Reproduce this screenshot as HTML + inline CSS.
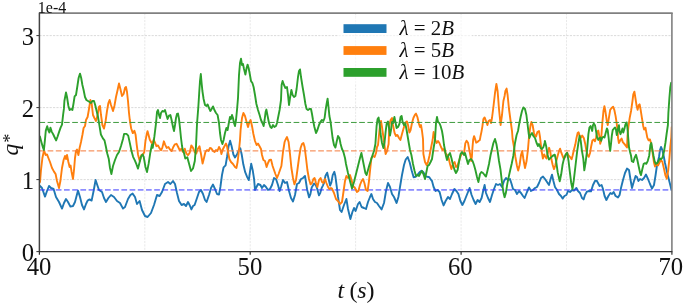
<!DOCTYPE html>
<html><head><meta charset="utf-8"><title>plot</title>
<style>html,body{margin:0;padding:0;background:#fff}body{width:685px;height:305px;position:relative;overflow:hidden}</style>
</head><body>
<svg width="685" height="305" viewBox="0 0 685 305" style="position:absolute;left:0;top:0">
<rect width="685" height="305" fill="#fff"/>
<line x1="144.8" y1="13.1" x2="144.8" y2="251.55" stroke="#e0e0e0" stroke-width="0.7" stroke-dasharray="2.2,1.2"/>
<line x1="250.2" y1="13.1" x2="250.2" y2="251.55" stroke="#e0e0e0" stroke-width="0.7" stroke-dasharray="2.2,1.2"/>
<line x1="355.6" y1="13.1" x2="355.6" y2="251.55" stroke="#e0e0e0" stroke-width="0.7" stroke-dasharray="2.2,1.2"/>
<line x1="461.1" y1="13.1" x2="461.1" y2="251.55" stroke="#e0e0e0" stroke-width="0.7" stroke-dasharray="2.2,1.2"/>
<line x1="566.5" y1="13.1" x2="566.5" y2="251.55" stroke="#e0e0e0" stroke-width="0.7" stroke-dasharray="2.2,1.2"/>
<line x1="39.4" y1="179.6" x2="671.9" y2="179.6" stroke="#cccccc" stroke-width="0.7" stroke-dasharray="2.2,1.2"/>
<line x1="39.4" y1="107.6" x2="671.9" y2="107.6" stroke="#cccccc" stroke-width="0.7" stroke-dasharray="2.2,1.2"/>
<line x1="39.4" y1="35.6" x2="671.9" y2="35.6" stroke="#cccccc" stroke-width="0.7" stroke-dasharray="2.2,1.2"/>
<clipPath id="c"><rect x="39.4" y="13.1" width="632.5" height="238.45000000000002"/></clipPath>
<g clip-path="url(#c)">
<polyline points="40.0,186.0 42.0,188.0 45.0,196.6 47.0,191.0 49.0,186.0 51.0,188.0 53.6,189.0 56.0,197.0 59.0,202.0 62.0,208.6 64.0,203.0 66.0,199.0 68.0,202.0 70.4,206.6 73.0,206.0 75.0,202.0 78.0,190.6 80.0,197.0 82.0,205.0 84.0,209.4 86.0,204.0 87.6,200.6 89.6,199.4 91.6,200.6 93.6,191.0 95.6,180.0 97.6,186.0 99.0,190.0 102.0,192.0 104.0,198.0 106.0,202.0 108.4,198.0 111.0,195.0 114.0,197.0 117.0,201.0 120.0,203.0 123.0,208.6 125.0,207.0 128.0,199.0 130.4,195.0 132.6,193.6 135.0,197.0 137.0,204.0 139.6,201.0 142.0,210.0 145.0,216.0 147.6,217.0 151.0,213.0 154.0,205.0 157.0,195.0 159.6,196.0 162.0,192.0 165.0,184.0 168.0,182.0 170.4,184.0 173.0,181.0 175.0,184.0 177.0,193.0 179.0,201.0 181.6,205.0 184.0,204.0 186.0,206.0 188.0,202.0 189.6,205.0 191.4,209.4 193.0,206.0 194.6,205.0 197.0,198.0 199.0,192.0 201.0,190.0 203.0,194.0 205.0,200.0 206.6,202.0 209.0,195.0 211.0,188.0 213.0,184.6 215.0,189.0 217.0,194.0 219.0,194.6 220.4,187.0 222.0,175.0 223.6,167.3 225.6,165.3 227.1,156.5 228.5,146.6 230.1,140.7 231.5,145.7 233.4,154.5 235.0,157.5 237.0,154.5 239.0,149.6 240.3,148.2 241.7,154.5 243.3,164.3 245.2,172.2 247.2,177.1 248.8,180.1 250.2,170.2 251.2,163.8 252.7,170.2 254.1,179.1 255.0,190.0 258.0,184.0 260.4,185.0 262.0,188.0 264.0,185.0 266.0,187.0 268.0,190.0 270.0,189.0 272.0,185.0 274.0,178.0 276.0,179.0 278.0,185.0 279.6,191.0 281.0,187.0 283.0,180.0 285.0,183.0 287.0,182.0 289.0,191.0 291.0,198.0 293.0,201.4 295.0,195.0 297.0,184.0 299.0,183.0 301.0,179.0 303.0,178.0 305.0,176.0 305.8,181.0 307.1,189.5 309.1,197.4 310.4,194.1 311.7,187.5 314.1,183.6 315.7,184.9 317.0,188.2 319.0,195.4 320.3,192.8 321.6,188.2 322.9,185.6 324.2,182.3 325.5,175.7 327.2,172.7 328.8,179.7 330.1,185.6 331.4,182.3 332.7,175.1 334.3,171.8 335.3,175.7 336.7,186.2 338.0,196.7 340.0,210.0 341.6,212.0 344.0,205.0 346.4,199.0 348.0,209.0 350.4,219.0 352.4,212.0 354.0,208.0 355.6,211.0 358.0,204.0 359.6,202.0 361.6,207.0 364.0,208.0 366.0,209.0 368.0,202.0 370.0,197.0 371.4,194.0 373.0,199.0 375.0,202.0 377.0,203.0 379.0,206.0 381.6,209.4 384.0,203.0 386.0,191.0 388.0,183.0 390.0,187.0 392.0,194.0 394.0,197.0 396.6,203.0 398.4,197.0 400.0,187.0 402.0,175.0 404.0,165.0 405.7,159.5 407.7,157.1 409.7,162.5 411.6,170.3 413.6,177.2 415.6,176.8 417.5,174.9 419.5,172.3 421.5,170.7 423.4,172.3 425.4,176.2 427.4,176.8 429.3,177.2 431.3,180.2 432.0,181.0 433.6,187.0 435.6,191.0 437.6,190.0 439.6,192.0 441.6,200.0 443.6,205.4 445.6,201.0 448.0,197.0 450.0,199.0 452.0,194.0 454.4,189.0 456.4,191.0 458.4,194.0 460.4,201.0 462.4,205.0 464.4,201.0 466.4,196.0 468.0,192.0 469.6,188.0 471.6,195.0 473.6,200.0 475.6,204.0 477.6,200.0 479.6,202.0 481.6,198.0 483.6,189.0 484.6,185.0 486.0,193.0 488.0,198.0 490.0,202.0 492.0,195.0 494.0,189.0 496.0,184.0 498.0,185.0 500.0,184.0 502.0,187.0 504.0,181.0 506.0,178.0 508.0,180.0 510.0,179.0 511.6,184.0 513.0,189.0 515.0,190.0 517.0,194.0 519.0,191.0 521.0,193.0 523.0,196.0 524.6,198.0 527.0,192.0 529.0,187.4 531.0,191.0 533.0,190.0 535.0,188.0 537.0,187.0 539.0,183.0 541.0,178.0 543.0,176.6 545.0,179.0 547.0,182.0 549.0,185.0 550.6,179.0 552.0,174.6 553.4,181.0 555.0,187.0 557.0,190.0 559.0,194.0 561.0,196.0 562.6,198.6 564.4,196.0 566.4,195.0 568.0,191.0 570.0,192.0 572.0,190.0 574.0,190.6 576.4,188.0 578.0,191.0 580.0,193.0 582.0,198.0 583.6,199.4 585.0,195.0 587.0,191.6 589.0,191.0 591.0,191.4 593.0,185.0 595.0,181.0 596.6,180.6 598.0,183.0 599.6,186.0 601.6,185.0 603.0,189.0 604.6,196.0 606.4,200.0 608.4,196.0 610.4,193.0 612.0,194.0 613.6,192.0 615.6,196.0 618.0,197.4 619.6,195.0 621.0,188.0 623.0,180.0 625.0,173.0 627.0,168.6 629.0,170.0 630.4,179.0 632.0,188.0 634.0,181.0 635.6,176.0 637.0,177.0 638.4,181.0 640.0,179.0 642.0,180.0 644.0,178.0 646.0,174.6 648.0,179.0 650.0,184.0 652.0,188.6 654.0,185.0 655.6,175.0 657.0,165.0 659.0,157.0 660.0,150.0 661.0,147.0 662.3,150.0 663.5,155.0 665.0,163.0 667.0,172.0 669.0,180.0 671.5,190.0" fill="none" stroke="#1f77b4" stroke-width="1.9" stroke-linejoin="round" stroke-linecap="round"/>
<line x1="39.4" y1="189.95" x2="671.9" y2="189.95" stroke="#3636ff" stroke-width="1.0" stroke-dasharray="5.7,2.5"/>
<polyline points="40.0,182.0 41.0,170.0 42.4,158.0 44.0,150.4 45.6,155.0 47.0,154.4 48.4,158.0 50.0,162.0 52.0,168.0 54.0,171.6 55.6,174.0 57.0,181.0 59.0,188.0 60.4,181.0 62.0,168.0 63.6,160.0 65.0,156.0 66.0,159.0 67.0,155.0 68.4,162.0 69.6,167.0 70.6,165.6 71.6,172.0 73.0,179.0 74.0,170.0 75.0,158.0 76.0,151.0 77.0,149.6 78.4,155.0 79.6,148.0 81.0,142.0 82.4,135.0 83.6,128.0 85.0,126.0 86.0,120.0 87.6,117.0 89.0,109.0 90.4,100.0 91.6,103.0 93.0,115.0 94.4,118.0 96.0,121.0 97.6,115.0 99.0,107.0 100.0,106.0 101.0,115.0 102.4,125.0 104.0,128.6 105.6,121.0 107.0,111.0 108.4,103.0 109.6,100.0 111.0,105.0 113.0,111.0 114.4,106.0 116.0,97.0 117.6,90.0 119.0,83.4 120.4,89.0 122.0,96.0 123.6,94.0 125.0,88.0 126.0,87.0 127.0,92.0 128.0,101.0 129.0,113.0 129.8,120.0 131.1,128.2 132.8,133.1 134.4,130.7 135.6,134.8 136.7,144.6 138.0,154.4 139.7,161.0 141.3,155.2 143.0,154.4 144.3,152.0 145.4,141.3 146.6,134.8 147.5,131.1 148.7,135.6 149.8,139.7 151.1,142.1 152.5,143.8 153.6,139.7 154.8,142.1 156.4,146.2 158.0,145.4 159.3,147.9 161.0,150.3 162.3,147.9 163.9,141.3 165.1,144.6 166.7,147.9 168.4,147.0 170.0,149.5 171.6,151.1 173.3,147.0 174.9,144.3 176.6,143.8 178.2,147.0 179.8,150.3 181.5,148.7 183.1,152.0 184.8,148.7 186.4,153.6 188.0,155.2 189.7,152.8 191.3,145.4 193.0,147.9 194.6,152.0 196.2,153.6 197.9,148.7 199.5,146.2 201.0,154.0 202.6,163.6 204.0,158.0 205.4,152.0 207.0,150.0 208.6,151.0 210.0,148.0 211.4,148.4 213.0,151.0 214.6,152.0 216.0,150.0 217.4,151.0 219.0,147.0 220.6,150.0 221.4,154.0 223.0,149.0 224.6,146.0 226.0,143.6 227.0,146.0 228.0,152.0 229.4,159.0 231.0,162.0 233.0,164.0 235.0,167.0 236.4,168.0 237.6,162.0 239.0,150.0 240.0,140.0 240.6,130.0 242.0,118.0 243.4,113.0 245.0,116.0 246.6,122.0 248.0,127.0 249.4,122.0 250.6,120.0 252.0,126.0 253.4,134.0 255.0,141.0 256.6,145.0 258.0,143.6 259.4,146.0 261.0,149.0 262.0,155.0 263.4,160.0 265.0,161.0 266.6,167.0 268.0,163.0 269.4,160.0 271.0,159.6 272.6,166.0 274.0,170.0 275.4,174.0 277.0,178.0 278.6,174.0 280.0,170.0 281.4,166.0 283.0,152.0 284.6,142.0 285.4,140.0 287.0,137.0 288.6,142.0 290.0,154.0 291.4,168.0 293.0,178.0 294.4,184.4 296.0,180.0 297.4,170.0 299.0,158.0 300.6,148.0 302.0,144.0 303.4,143.0 304.6,147.0 306.0,158.0 307.4,170.0 309.0,179.0 310.6,184.4 312.0,183.0 313.4,179.0 314.6,178.0 316.0,183.0 317.4,187.0 319.0,180.0 320.6,178.0 322.0,182.0 323.4,183.0 325.0,179.0 326.4,183.0 328.0,187.0 329.4,189.0 331.0,188.0 332.0,188.6 334.0,193.0 336.0,199.0 338.0,201.0 340.0,204.0 342.0,202.0 343.6,191.0 345.0,181.0 346.4,176.0 348.0,178.0 350.0,175.0 351.6,180.0 353.0,186.0 355.0,188.0 357.0,192.0 358.4,191.0 360.0,185.0 361.6,181.0 363.0,179.0 364.4,183.0 366.0,190.0 367.6,191.0 369.0,181.0 370.0,171.0 371.4,158.0 373.0,156.0 374.6,157.0 376.0,153.0 377.0,147.0 378.0,145.0 379.0,135.0 380.0,125.0 381.0,121.0 382.0,127.0 383.4,137.0 384.6,146.0 385.6,154.0 387.0,151.0 388.6,144.0 389.4,125.0 390.6,120.0 392.0,118.0 393.0,125.0 394.6,133.0 396.0,136.0 397.4,135.0 399.0,138.0 400.4,140.0 402.0,134.0 403.4,129.0 404.6,125.0 406.0,122.0 407.0,121.4 408.0,125.0 409.4,132.6 410.6,130.0 412.0,123.0 413.4,118.0 415.0,114.6 416.0,113.6 417.4,117.0 419.0,124.0 420.0,127.0 421.0,125.0 422.0,131.0 423.0,139.0 423.4,154.0 425.0,162.0 426.6,165.0 428.0,162.0 429.4,156.0 431.0,148.0 432.6,140.0 433.6,132.0 435.0,139.0 436.6,143.0 438.0,141.0 439.4,143.0 441.0,147.0 442.6,150.0 444.0,149.0 445.4,153.0 447.0,155.0 448.6,158.0 450.0,164.0 451.4,169.0 453.0,164.0 454.6,162.0 456.0,167.0 457.4,166.0 459.0,161.0 460.6,156.0 462.0,153.0 464.0,154.0 465.3,143.4 466.6,140.7 468.0,142.7 469.3,149.9 470.6,156.5 471.2,161.1 471.9,156.5 472.5,147.3 473.2,139.4 474.1,136.1 475.2,139.4 476.2,142.7 477.5,142.0 478.8,140.7 479.8,140.1 480.4,136.8 481.5,131.6 482.4,126.3 483.4,119.0 484.6,117.4 486.0,121.0 487.4,125.0 488.6,121.0 490.0,120.0 491.0,123.0 492.0,118.0 493.4,107.0 495.0,93.0 496.4,84.0 497.6,91.0 499.0,109.0 500.6,125.0 502.0,115.0 503.4,101.0 504.6,96.0 505.4,91.0 506.6,88.6 507.6,95.0 509.0,109.0 510.6,121.0 512.0,131.0 512.6,139.0 514.0,147.0 515.4,157.0 517.0,166.0 518.2,170.6 519.6,165.0 521.0,155.0 522.2,151.0 523.4,159.0 525.0,168.0 526.6,161.0 528.0,149.0 529.0,137.0 530.0,129.0 530.6,125.0 531.4,122.0 532.6,125.0 534.0,133.0 534.6,135.0 536.0,136.6 537.4,132.0 539.0,131.0 540.0,137.0 540.5,141.3 541.6,151.1 542.9,158.5 544.2,154.4 545.4,156.8 546.5,158.5 547.8,152.7 549.1,147.8 550.3,151.9 551.4,159.3 552.7,165.0 554.0,169.1 555.2,165.8 556.3,160.9 557.6,156.0 559.0,151.1 560.1,148.7 561.3,152.7 562.6,156.0 563.9,159.0 565.0,156.8 566.2,153.6 567.1,152.7 568.3,155.2 569.9,156.8 571.6,159.3 572.7,155.2 574.0,149.5 575.3,144.6 576.5,138.0 577.6,133.1 578.6,132.3 579.8,136.4 580.9,137.7 582.2,135.6 583.8,138.0 585.2,143.7 586.3,150.3 587.5,155.2 588.8,156.8 590.1,152.7 591.2,146.2 592.4,140.5 593.7,139.6 595.0,141.3 596.1,137.2 597.3,131.5 598.3,130.6 599.4,136.4 600.2,143.7 601.0,141.3 602.3,123.3 603.5,110.7 604.4,106.1 605.3,110.7 606.6,119.7 607.7,125.1 608.9,117.9 610.2,109.8 611.6,108.0 613.1,106.7 614.3,109.8 615.6,116.1 616.7,123.3 617.6,130.5 618.0,137.6 618.9,143.0 620.3,140.3 621.6,138.5 622.8,142.1 624.3,143.9 625.7,145.7 627.0,147.5 627.5,135.8 628.4,126.9 629.7,117.9 631.1,110.7 632.4,101.6 633.3,94.4 634.4,91.7 635.4,98.0 636.5,105.2 637.6,109.8 638.7,105.2 639.6,104.3 640.5,108.9 641.9,117.9 643.2,126.0 644.1,129.6 645.5,127.8 646.3,132.3 647.3,137.6 648.6,140.3 649.9,139.4 651.0,143.0 652.2,150.2 654.0,162.5 655.0,166.5 656.4,164.5 658.0,165.5 659.5,162.5 660.9,160.6 662.3,161.6 663.9,168.4 665.4,175.3 666.8,178.7 668.2,170.4 669.4,158.6 670.3,146.8 671.3,137.0 671.7,127.1" fill="none" stroke="#ff7f0e" stroke-width="1.9" stroke-linejoin="round" stroke-linecap="round"/>
<line x1="39.4" y1="150.9" x2="671.9" y2="150.9" stroke="#f47a3c" stroke-width="1.0" stroke-dasharray="5.7,2.5"/>
<polyline points="39.9,136.5 41.5,142.4 42.9,147.3 43.9,149.9 44.9,140.4 45.8,130.6 47.2,126.2 48.4,130.6 49.4,132.5 50.4,127.6 51.7,131.6 53.3,134.5 54.7,137.5 56.1,140.4 57.6,136.5 59.2,131.6 60.6,127.6 62.0,124.7 63.1,114.8 63.9,108.9 64.4,101.0 66.0,92.4 67.0,97.0 68.4,106.0 69.6,110.0 71.0,109.0 72.4,110.0 73.6,103.0 74.6,96.4 76.0,95.0 77.4,86.0 78.6,78.0 80.0,73.6 81.2,78.0 82.4,85.0 83.6,90.0 85.0,97.0 86.4,100.0 88.0,101.0 89.6,102.0 91.0,103.0 92.4,101.0 94.0,101.0 95.2,105.0 96.4,110.0 98.0,116.8 99.3,124.7 100.9,134.5 102.9,138.4 104.5,140.4 105.8,146.3 107.2,153.2 108.8,159.1 110.0,168.0 111.4,174.0 113.0,166.0 115.0,160.0 117.0,155.0 119.0,152.0 121.0,146.0 123.0,139.0 124.1,133.9 126.5,133.9 128.2,135.6 129.8,142.9 131.5,151.1 133.1,156.8 134.7,160.1 136.4,164.2 138.0,168.6 139.3,163.4 141.0,156.8 142.6,154.4 143.7,156.8 145.4,166.7 147.0,172.1 148.7,163.4 150.3,152.7 151.9,144.6 152.7,147.8 154.4,136.4 156.0,123.3 157.0,112.0 158.0,110.0 159.0,115.0 160.0,118.0 161.0,113.0 162.4,111.0 164.0,111.6 165.0,110.0 166.4,115.0 167.6,119.0 169.0,115.6 170.4,115.0 171.6,120.0 173.0,127.0 174.0,131.0 175.0,125.0 176.0,118.0 177.0,114.0 178.0,113.6 179.0,119.0 180.0,128.0 181.0,138.0 182.0,146.0 183.0,151.0 183.5,151.0 185.3,158.5 187.3,157.3 189.0,163.5 191.0,171.0 193.0,168.5 194.8,161.0 196.0,146.0 197.0,124.0 198.4,106.0 199.2,93.0 200.0,81.0 200.8,74.0 201.6,83.0 202.4,91.0 203.6,99.0 205.0,105.0 206.4,106.0 207.6,104.4 209.0,108.0 210.4,111.0 211.6,109.0 213.0,106.4 214.4,110.0 216.0,113.0 217.6,115.0 219.0,123.0 220.0,133.0 221.0,140.0 222.4,144.0 223.6,140.0 225.0,133.0 226.4,128.0 227.6,130.0 229.0,122.0 230.0,117.0 231.0,119.0 232.0,115.0 233.0,118.0 234.0,123.0 235.0,126.0 236.0,120.0 237.0,110.0 238.0,98.0 239.0,75.0 240.0,63.0 241.0,58.6 242.0,65.0 243.0,64.0 244.0,69.0 245.4,74.6 246.6,68.0 247.6,64.6 248.6,68.0 249.6,73.0 251.0,81.0 252.4,83.0 253.6,87.0 255.0,95.0 256.4,104.0 258.0,110.0 259.6,115.0 261.0,120.0 262.4,123.0 263.6,126.0 264.6,120.0 265.6,112.0 266.4,109.6 267.6,116.0 269.0,123.0 270.4,127.0 271.6,128.0 273.0,125.0 274.4,127.0 276.0,126.0 277.0,123.0 278.0,118.0 279.6,110.0 281.0,100.0 281.6,85.0 282.6,81.0 284.0,85.0 285.4,88.0 287.0,87.0 288.0,95.0 289.0,105.0 290.0,98.0 291.4,90.0 292.6,95.0 294.0,97.0 295.4,96.0 296.6,89.0 298.0,77.0 299.0,71.0 300.0,69.4 301.0,77.0 302.6,87.0 304.0,95.0 305.4,104.0 306.6,109.0 308.0,110.0 309.4,109.0 311.0,109.0 312.0,114.0 313.0,120.0 314.4,127.0 316.0,133.0 317.4,130.0 319.0,125.0 320.6,121.6 322.0,120.0 323.4,121.0 324.6,118.0 325.6,110.0 326.6,104.0 327.6,98.6 328.6,108.0 329.4,116.0 330.6,122.0 331.6,130.0 332.6,138.0 334.0,145.0 335.4,147.6 336.6,142.0 338.0,136.0 339.4,138.0 340.6,144.0 342.0,149.0 343.4,152.0 345.0,158.0 346.0,164.0 348.0,173.0 350.0,181.0 352.0,188.4 354.0,182.0 356.0,174.0 358.0,166.0 360.0,158.0 361.4,153.0 362.6,159.0 364.0,166.0 365.4,173.0 366.6,175.0 368.0,170.0 369.4,165.0 371.0,160.0 372.6,155.0 374.0,151.0 375.4,144.0 376.6,126.0 377.6,119.0 378.6,117.6 379.6,124.0 380.6,134.0 382.0,143.0 383.4,148.0 384.6,142.0 385.6,132.0 386.6,124.0 388.0,121.6 389.0,128.0 390.0,135.6 391.0,130.0 392.0,122.0 393.0,123.0 394.4,117.0 395.4,122.0 396.6,128.0 398.0,127.0 399.4,124.0 400.6,117.0 401.6,116.0 402.6,122.0 404.0,125.0 405.4,124.0 406.6,130.0 407.6,136.0 408.6,142.0 410.0,150.0 411.4,155.0 413.0,164.0 414.6,171.0 416.0,176.0 417.4,175.0 419.0,176.0 420.6,173.0 422.0,171.0 423.4,174.0 425.0,179.0 426.4,172.0 427.6,166.0 429.0,165.0 430.6,162.0 432.0,159.0 433.6,148.0 435.0,140.0 436.0,123.0 437.0,117.0 438.0,122.0 439.4,123.0 440.6,126.0 442.0,131.0 443.0,137.0 444.0,145.0 444.6,148.0 446.0,156.0 447.0,160.0 448.6,155.0 450.0,153.0 451.4,158.0 453.0,165.0 454.6,170.0 456.0,173.0 457.6,170.0 459.0,162.0 460.6,154.0 462.0,152.0 464.0,155.0 465.0,153.0 466.6,159.0 468.0,164.0 469.4,160.0 471.0,159.0 472.6,161.0 474.0,165.0 475.4,170.0 477.0,177.0 478.4,182.0 480.0,174.0 481.4,172.0 483.0,173.0 484.6,175.0 486.0,176.6 487.4,171.0 489.0,164.0 490.6,155.0 492.0,149.0 493.4,143.0 495.0,139.0 496.4,144.0 497.6,151.0 499.0,161.0 500.5,169.7 501.9,181.5 503.4,192.3 504.6,197.2 505.8,193.3 507.4,183.4 509.0,175.6 510.3,169.7 511.7,163.8 513.3,155.9 515.0,143.0 516.6,135.0 518.0,131.0 519.0,125.0 520.6,117.0 522.0,111.0 523.4,107.4 525.0,109.0 526.4,115.0 527.4,123.0 528.6,133.0 529.4,138.0 530.6,135.0 532.0,133.0 533.4,136.0 535.0,138.0 536.6,143.0 538.0,146.0 539.0,144.0 540.6,148.0 542.0,149.0 543.4,147.0 544.6,143.0 544.9,140.9 546.3,146.8 547.5,154.7 548.9,159.6 550.8,157.6 552.8,155.7 554.8,154.7 556.1,160.6 557.7,172.4 559.7,181.2 561.2,174.3 562.6,164.5 564.0,158.6 565.6,154.7 567.1,152.7 568.5,160.6 569.9,172.4 571.1,182.2 572.5,189.1 573.8,180.2 575.4,166.5 577.0,152.7 578.4,142.9 579.6,135.8 580.7,140.7 581.9,150.6 583.3,158.6 584.3,170.4 585.6,162.5 586.8,152.7 587.3,147.3 588.4,134.2 589.4,127.6 590.6,126.0 591.4,128.5 592.2,130.9 593.0,125.2 593.8,123.6 595.0,125.2 596.0,130.9 597.1,137.5 598.3,139.9 599.2,138.3 600.4,137.5 601.2,140.7 602.0,138.3 603.2,136.7 604.5,137.5 605.8,132.6 606.9,128.5 607.7,130.1 608.6,137.5 609.4,145.7 610.2,150.9 611.0,144.0 611.8,135.8 612.7,130.1 614.0,128.5 615.1,127.6 615.9,129.3 616.8,135.0 617.9,129.3 618.9,125.2 619.5,130.9 620.5,134.2 621.7,130.9 622.5,128.5 623.3,132.6 624.5,128.5 625.4,124.4 626.6,122.4 627.4,127.6 628.2,137.5 629.0,147.3 629.9,151.4 631.0,155.5 631.8,161.1 633.3,162.0 634.7,157.5 636.0,154.8 637.2,159.3 638.7,166.5 640.1,172.8 641.0,175.1 642.3,169.2 643.7,163.8 645.0,163.2 646.3,163.8 647.7,161.1 649.2,155.7 650.4,144.8 651.3,143.0 652.2,148.4 653.5,155.7 654.6,161.1 655.8,163.8 657.1,163.2 658.5,161.1 660.0,158.4 661.2,159.3 662.5,157.5 663.9,152.1 665.4,143.0 666.6,134.0 667.9,125.0 668.4,112.5 669.4,98.0 670.3,87.2 671.2,82.7" fill="none" stroke="#2ca02c" stroke-width="1.9" stroke-linejoin="round" stroke-linecap="round"/>
<line x1="39.4" y1="122.45" x2="671.9" y2="122.45" stroke="#3f9c3f" stroke-width="1.0" stroke-dasharray="5.7,2.5"/>
</g>
<line x1="39.4" y1="13.1" x2="672.6999999999999" y2="13.1" stroke="#808080" stroke-width="1.6"/>
<line x1="671.9" y1="13.1" x2="671.9" y2="251.55" stroke="#808080" stroke-width="1.6"/>
<line x1="39.4" y1="12.6" x2="39.4" y2="252.05" stroke="#444" stroke-width="1.5"/>
<line x1="38.9" y1="251.55" x2="672.4" y2="251.55" stroke="#333" stroke-width="1.2"/>
<line x1="39.4" y1="251.55" x2="39.4" y2="254.85000000000002" stroke="#333" stroke-width="1.2"/>
<line x1="250.2" y1="251.55" x2="250.2" y2="254.85000000000002" stroke="#333" stroke-width="1.2"/>
<line x1="461.1" y1="251.55" x2="461.1" y2="254.85000000000002" stroke="#333" stroke-width="1.2"/>
<line x1="671.9" y1="251.55" x2="671.9" y2="254.85000000000002" stroke="#333" stroke-width="1.2"/>
<line x1="36.4" y1="251.6" x2="39.4" y2="251.6" stroke="#333" stroke-width="1"/>
<line x1="36.4" y1="179.6" x2="39.4" y2="179.6" stroke="#333" stroke-width="1"/>
<line x1="36.4" y1="107.6" x2="39.4" y2="107.6" stroke="#333" stroke-width="1"/>
<line x1="36.4" y1="35.6" x2="39.4" y2="35.6" stroke="#333" stroke-width="1"/>
<text x="39.0" y="275.2" font-size="24.7" text-anchor="middle" font-family="Liberation Serif, serif" fill="#111">40</text>
<text x="249.9" y="275.2" font-size="24.7" text-anchor="middle" font-family="Liberation Serif, serif" fill="#111">50</text>
<text x="460.3" y="275.2" font-size="24.7" text-anchor="middle" font-family="Liberation Serif, serif" fill="#111">60</text>
<text x="670.8" y="275.2" font-size="24.7" text-anchor="middle" font-family="Liberation Serif, serif" fill="#111">70</text>
<text x="34.2" y="260.9" font-size="24.7" text-anchor="end" font-family="Liberation Serif, serif" fill="#111">0</text>
<text x="34.2" y="189.0" font-size="24.7" text-anchor="end" font-family="Liberation Serif, serif" fill="#111">1</text>
<text x="34.2" y="117.0" font-size="24.7" text-anchor="end" font-family="Liberation Serif, serif" fill="#111">2</text>
<text x="34.2" y="45.0" font-size="24.7" text-anchor="end" font-family="Liberation Serif, serif" fill="#111">3</text>
<text x="37.8" y="13.4" font-size="16" font-family="Liberation Serif, serif" fill="#111">1e-4</text>
<text y="298.4" font-size="24" font-family="Liberation Serif, serif" fill="#111"><tspan x="337.6" font-style="italic">t</tspan> <tspan x="349.6">(</tspan><tspan x="357.2" font-style="italic">s</tspan><tspan x="366.6">)</tspan></text>
<text transform="translate(18,155.6) rotate(-90)" font-size="23.5" font-style="italic" font-family="Liberation Serif, serif" fill="#111">q<tspan font-size="18" dy="-2.4" dx="0.3">*</tspan></text>
<rect x="338" y="17" width="134" height="67" fill="#fff" fill-opacity="0.6"/>
<rect x="343.5" y="24.2" width="43" height="8.8" fill="#1f77b4"/>
<text x="399.4" y="35.1" font-size="20.9" font-style="italic" font-family="Liberation Serif, serif" fill="#111">λ <tspan font-style="normal">= 2</tspan>B</text>
<rect x="343.5" y="46.1" width="43" height="8.8" fill="#ff7f0e"/>
<text x="399.4" y="57.0" font-size="20.9" font-style="italic" font-family="Liberation Serif, serif" fill="#111">λ <tspan font-style="normal">= 5</tspan>B</text>
<rect x="343.5" y="68.0" width="43" height="8.8" fill="#2ca02c"/>
<text x="399.4" y="78.9" font-size="20.9" font-style="italic" font-family="Liberation Serif, serif" fill="#111">λ <tspan font-style="normal">= 10</tspan>B</text>
</svg>
</body></html>
